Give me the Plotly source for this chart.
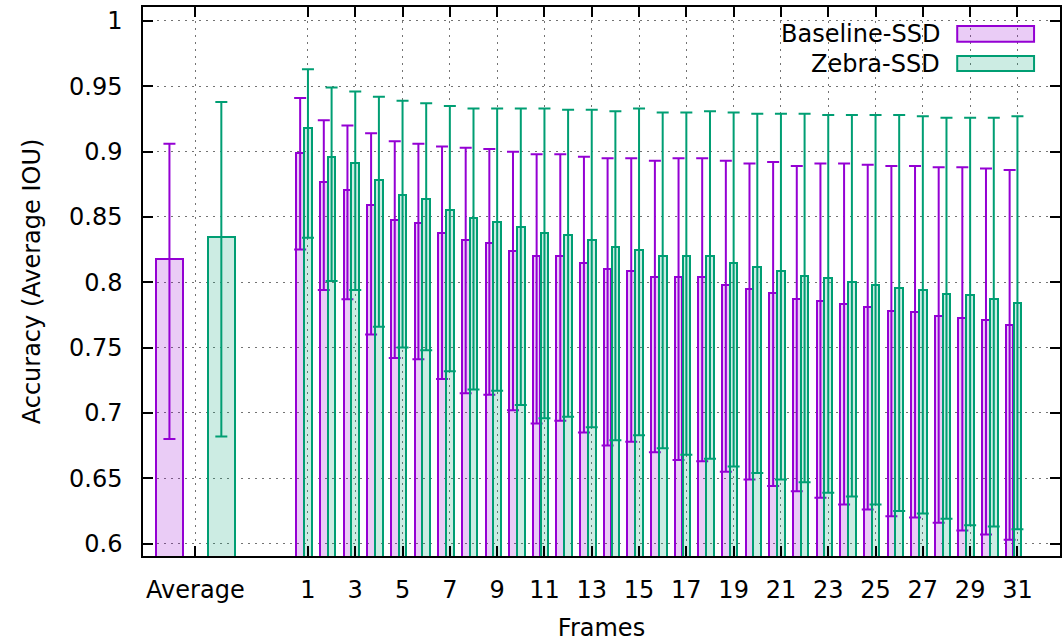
import plotly.graph_objects as go

# ---------------- data ----------------
frames = list(range(1, 32))

baseline_mean = [0.899, 0.877, 0.871, 0.859, 0.848, 0.845, 0.838, 0.832, 0.830, 0.824,
                 0.820, 0.820, 0.815, 0.810, 0.809, 0.804, 0.804, 0.804, 0.798, 0.795,
                 0.792, 0.787, 0.786, 0.783, 0.781, 0.778, 0.777, 0.774, 0.773, 0.771, 0.767]
baseline_high = [0.941, 0.924, 0.920, 0.914, 0.908, 0.906, 0.904, 0.903, 0.902, 0.900,
                 0.898, 0.898, 0.896, 0.895, 0.895, 0.893, 0.895, 0.895, 0.893, 0.891,
                 0.892, 0.889, 0.891, 0.891, 0.890, 0.889, 0.889, 0.888, 0.888, 0.887, 0.886]
baseline_low = [0.825, 0.794, 0.787, 0.760, 0.742, 0.741, 0.726, 0.715, 0.714, 0.702,
                0.692, 0.694, 0.685, 0.675, 0.678, 0.670, 0.664, 0.663, 0.655, 0.649,
                0.644, 0.640, 0.635, 0.630, 0.626, 0.621, 0.620, 0.616, 0.610, 0.607, 0.603]

zebra_mean = [0.918, 0.896, 0.891, 0.878, 0.867, 0.864, 0.855, 0.849, 0.846, 0.842,
              0.838, 0.836, 0.832, 0.827, 0.825, 0.820, 0.820, 0.820, 0.815, 0.812,
              0.809, 0.805, 0.803, 0.800, 0.798, 0.796, 0.794, 0.791, 0.790, 0.787, 0.784]
zebra_high = [0.963, 0.949, 0.946, 0.942, 0.939, 0.937, 0.935, 0.933, 0.933, 0.933,
              0.933, 0.932, 0.932, 0.931, 0.933, 0.930, 0.930, 0.931, 0.930, 0.929,
              0.929, 0.929, 0.928, 0.928, 0.928, 0.928, 0.927, 0.926, 0.926, 0.926, 0.927]
zebra_low = [0.834, 0.801, 0.794, 0.766, 0.750, 0.748, 0.732, 0.718, 0.717, 0.706,
             0.696, 0.697, 0.689, 0.679, 0.683, 0.673, 0.668, 0.665, 0.659, 0.654,
             0.649, 0.647, 0.639, 0.636, 0.630, 0.625, 0.623, 0.619, 0.614, 0.613, 0.611]

avg_label = "Average"
baseline_avg = [0.818]
baseline_avg_high = [0.906]
baseline_avg_low = [0.680]
zebra_avg = [0.835]
zebra_avg_high = [0.938]
zebra_avg_low = [0.682]

series_names = ["Baseline-SSD", "Zebra-SSD"]
y_ticks = [0.6, 0.65, 0.7, 0.75, 0.8, 0.85, 0.9, 0.95, 1.0]
y_tick_labels = ["0.6", "0.65", "0.7", "0.75", "0.8", "0.85", "0.9", "0.95", "1"]
x_tick_frames = list(range(1, 32, 2))

# ---------------- layout constants ----------------
PURPLE = "#9400D3"
GREEN = "#009E73"
PURPLE_FILL = "rgba(148,0,211,0.2)"
GREEN_FILL = "rgba(0,158,115,0.2)"
FONT = "DejaVu Sans"
W, H = 1062, 644
ML, MR, MT, MB = 143, 0, 7, 88

AVG_POS = -3.76
AVG_OFF = 1.097
AVG_W = 1.12
FR_OFF = -0.33
FR_W = 0.325


def errs(mean, high, low):
    plus = [h - m for m, h in zip(mean, high)]
    minus = [m - l for m, l in zip(mean, low)]
    return plus, minus


fig = go.Figure()


def add_bars(xs, mean, high, low, width, line_c, fill_c, name):
    plus, minus = errs(mean, high, low)
    fig.add_trace(go.Bar(
        x=xs, y=mean, width=width, name=name, showlegend=False,
        marker=dict(color=fill_c, line=dict(color=line_c, width=2)),
        error_y=dict(type="data", symmetric=False, array=plus, arrayminus=minus,
                     color=line_c, thickness=2, width=6),
    ))


# Average group
add_bars([AVG_POS - AVG_OFF], baseline_avg, baseline_avg_high, baseline_avg_low,
         AVG_W, PURPLE, PURPLE_FILL, series_names[0])
add_bars([AVG_POS + AVG_OFF], zebra_avg, zebra_avg_high, zebra_avg_low,
         AVG_W, GREEN, GREEN_FILL, series_names[1])

# Per-frame bars
add_bars([f + FR_OFF for f in frames], baseline_mean, baseline_high, baseline_low,
         FR_W, PURPLE, PURPLE_FILL, series_names[0])
add_bars(frames, zebra_mean, zebra_high, zebra_low,
         FR_W, GREEN, GREEN_FILL, series_names[1])

grid_dash = "2px,5px"
fig.update_layout(
    width=W, height=H,
    margin=dict(l=ML, r=MR, t=MT, b=MB, pad=0),
    paper_bgcolor="white", plot_bgcolor="white",
    barmode="overlay", bargap=0,
    font=dict(family=FONT, size=24, color="black"),
    showlegend=False,
    xaxis=dict(
        range=[-5.975, 32.8],
        tickmode="array",
        tickvals=[AVG_POS] + x_tick_frames,
        ticktext=[avg_label] + [str(f) for f in x_tick_frames],
        ticks="inside", ticklen=10, tickwidth=1.5, tickcolor="black",
        showline=True, linecolor="black", linewidth=1.5, mirror="allticks",
        showgrid=True, gridcolor="rgba(0,0,0,0.55)", gridwidth=1, griddash=grid_dash,
        zeroline=False,
        ticklabelstandoff=11,
        tickfont=dict(family=FONT, size=24, color="black"),
        title=dict(text="Frames", font=dict(family=FONT, size=24, color="black"), standoff=17),
    ),
    yaxis=dict(
        range=[0.5905, 1.0107],
        tickmode="array",
        tickvals=y_ticks,
        ticktext=y_tick_labels,
        ticks="inside", ticklen=10, tickwidth=1.5, tickcolor="black",
        showline=True, linecolor="black", linewidth=1.5, mirror="allticks",
        showgrid=True, gridcolor="rgba(0,0,0,0.55)", gridwidth=1, griddash=grid_dash,
        zeroline=False,
        ticklabelstandoff=14,
        tickfont=dict(family=FONT, size=24, color="black"),
        title=dict(text="Accuracy (Average IOU)", font=dict(family=FONT, size=24, color="black"), standoff=22),
    ),
)

# Legend (gnuplot style: text on the left, wide key box on the right)
pw = W - ML - MR
ph = H - MT - MB


def px_x(p):
    return (p - ML) / pw


def px_y(p):
    return (H - MB - p) / ph


legend_rows = [(series_names[0], PURPLE, PURPLE_FILL, 26, 41.7),
               (series_names[1], GREEN, GREEN_FILL, 56, 71)]
for name, lc, fc, top, bot in legend_rows:
    fig.add_shape(type="rect", xref="paper", yref="paper",
                  x0=px_x(959), x1=px_x(1036), y0=px_y(bot), y1=px_y(top),
                  line=dict(color=lc, width=2), fillcolor=fc, layer="above")
    fig.add_annotation(xref="paper", yref="paper", x=px_x(944), y=px_y((top + bot) / 2),
                       text=name, showarrow=False, xanchor="right", yanchor="middle",
                       font=dict(family=FONT, size=24, color="black"))

fig.write_html("out.html")
